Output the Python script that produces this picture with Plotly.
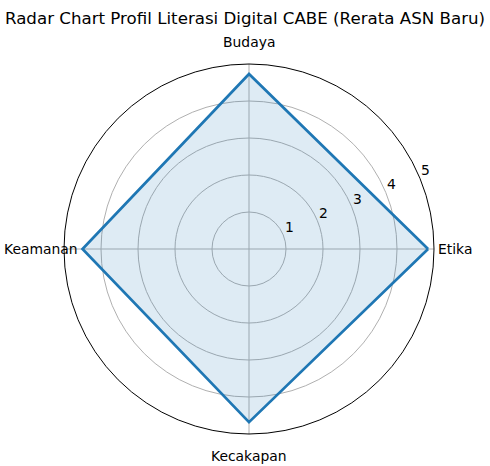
import math
import plotly.graph_objects as go

categories = ['Etika', 'Budaya', 'Keamanan', 'Kecakapan']
scores = [4.84, 4.73, 4.50, 4.68]
radial_ticks = [1, 2, 3, 4, 5]

W, H = 490, 466
CX, CY, R = 249, 249, 185      # polar centre and radius, px
R_MAX = 5
RLABEL_ANGLE = 22.5
LABEL_SIZE = 13.9

step = 360 / len(categories)
angles = [i * step for i in range(len(categories))]


def to_paper(dx, dy):
    # dx, dy in px from the polar centre (dy up)
    return (CX + dx) / W, (H - CY + dy) / H


fig = go.Figure(go.Scatterpolar(
    r=scores + scores[:1],
    theta=angles + angles[:1],
    mode='lines',
    fill='toself',
    fillcolor='rgba(31,119,180,0.15)',
    line=dict(color='#1f77b4', width=2.7),
    showlegend=False,
    hoverinfo='skip'
))

# category labels just off each spoke, the way matplotlib sets them
label_gap = [187, 207, 169, 207]
label_anchor = [('left', 'middle'), ('center', 'middle'),
                ('right', 'middle'), ('center', 'middle')]
for name, a, gap, (xa, ya) in zip(categories, angles, label_gap, label_anchor):
    x, y = to_paper(gap * math.cos(math.radians(a)),
                    gap * math.sin(math.radians(a)))
    fig.add_annotation(x=x, y=y, xref='paper', yref='paper', text=name,
                       showarrow=False, xanchor=xa, yanchor=ya,
                       font=dict(size=LABEL_SIZE, color='black'))

# radial tick labels along the 22.5 degree line, horizontal
for t in radial_ticks:
    d = t / R_MAX * R
    x, y = to_paper(d * math.cos(math.radians(RLABEL_ANGLE)) + 6,
                    d * math.sin(math.radians(RLABEL_ANGLE)) + 8)
    fig.add_annotation(x=x, y=y, xref='paper', yref='paper', text=str(t),
                       showarrow=False, xanchor='center', yanchor='middle',
                       font=dict(size=LABEL_SIZE, color='black'))

fig.update_layout(
    width=W, height=H,
    margin=dict(l=0, r=0, t=0, b=0),
    paper_bgcolor='white',
    font=dict(family='DejaVu Sans', size=LABEL_SIZE, color='black'),
    title=dict(text='Radar Chart Profil Literasi Digital CABE (Rerata ASN Baru)',
               x=0.5, xanchor='center', y=0.962, yanchor='middle',
               font=dict(size=16.67, color='black')),
    polar=dict(
        domain=dict(x=[(CX - R) / W, (CX + R) / W],
                    y=[(H - CY - R) / H, (H - CY + R) / H]),
        bgcolor='white',
        radialaxis=dict(range=[0, R_MAX], tickvals=radial_ticks,
                        showticklabels=False, showline=False, ticks='',
                        gridcolor='#b0b0b0', gridwidth=1),
        angularaxis=dict(rotation=0, direction='counterclockwise',
                         thetaunit='degrees', tickvals=angles,
                         showticklabels=False,
                         showline=True, linecolor='black', linewidth=1,
                         gridcolor='#b0b0b0', ticks=''),
    ),
)

# drop the default page margin so the chart sits at the window's corner
fig.write_html('out.html', config={'displayModeBar': False},
               post_script="document.body.style.margin='0px';")
